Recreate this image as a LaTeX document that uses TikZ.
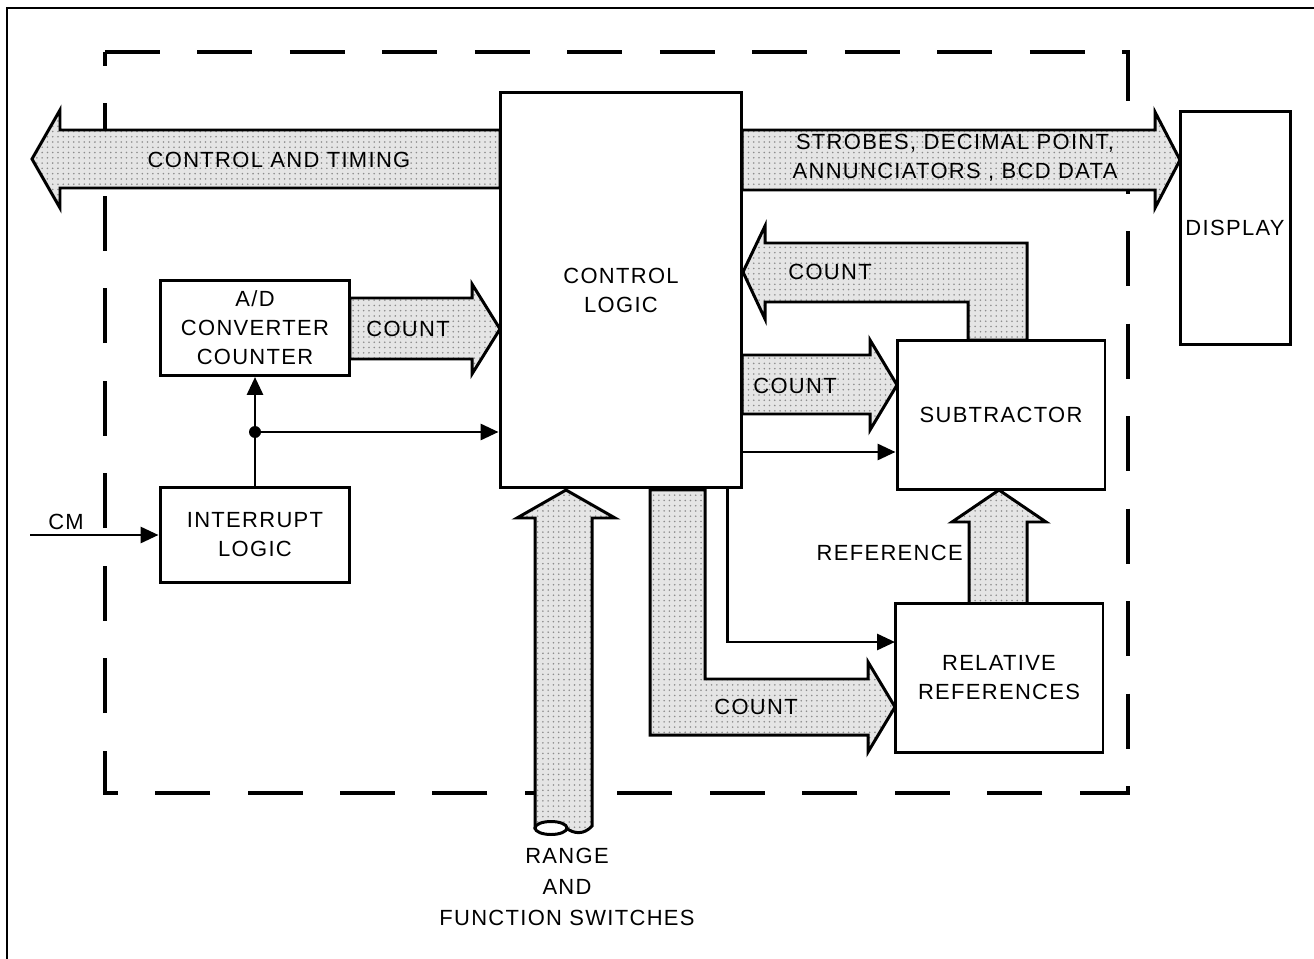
\documentclass[tikz,border=0pt]{standalone}
\usepackage{fontspec}
\setsansfont[LetterSpace=6]{Liberation Sans}
\usepackage{tikz}
\usetikzlibrary{positioning}
\usetikzlibrary{arrows.meta,patterns}
\tikzset{blk/.style={draw, line width=1.7pt, fill=white, align=center, inner sep=0pt, font=\sffamily\fontsize{12.5}{16.5}\selectfont}}
\tikzset{bus/.style={preaction={fill=black!10}, preaction={pattern=dots, pattern color=black!45}, draw, line width=1.7pt, line join=miter}}
\tikzset{sig/.style={line width=1.7pt, -{Triangle[length=0.36cm,width=0.32cm]}}}
\tikzset{lbl/.style={align=center, inner sep=0pt, font=\sffamily\fontsize{12.5}{16.5}\selectfont}}

\begin{document}
\begin{tikzpicture}[x=0.02cm, y=-0.02cm]
\useasboundingbox (0,0) rectangle (1314,959);
\draw[line width=1.5pt] (7,959) -- (7,8) -- (1314,8);
\draw[line width=1.8pt, dash pattern=on 1.1cm off 0.75cm] (105,52) -- (1128,52) -- (1128,793) -- (105,793) -- cycle;
% buses
\draw[bus] (500,130) -- (60,130) -- (60,110) -- (32,159) -- (60,208) -- (60,188) -- (500,188) -- cycle;
\draw[bus] (742,130) -- (1155,130) -- (1155,112) -- (1180,160) -- (1155,208) -- (1155,190) -- (742,190) -- cycle;
\draw[bus] (350,298) -- (472,298) -- (472,284) -- (500,329) -- (472,374) -- (472,359) -- (350,359) -- cycle;
\draw[bus] (1027,340) -- (1027,243) -- (765,243) -- (765,226) -- (743,272) -- (765,319) -- (765,302) -- (968,302) -- (968,340) -- cycle;
\draw[bus] (742,355) -- (870,355) -- (870,340) -- (897,385) -- (870,430) -- (870,414) -- (742,414) -- cycle;
\draw[bus] (650,490) -- (650,735) -- (868,735) -- (868,752) -- (895,707) -- (868,662) -- (868,679) -- (705,679) -- (705,490) -- cycle;
\draw[bus] (969,605) -- (969,522) -- (952,522) -- (999,490) -- (1046,522) -- (1027,522) -- (1027,605) -- cycle;
\draw[bus] (535,828) -- (535,518) -- (517,518) -- (566,490) -- (615,518) -- (592,518) -- (592,826) .. controls (584,835) and (574,834) .. (566,828) -- cycle;
\draw[line width=1.7pt, fill=white] (551,828) ellipse [x radius=0.32cm, y radius=0.13cm];
% blocks
\node[blk, minimum width=4.84cm, minimum height=7.92cm] (ctl) at (621,290) {CONTROL\\LOGIC};
\node[blk, minimum width=2.2cm, minimum height=4.66cm] (disp) at (1235,228) {DISPLAY};
\node[blk, minimum width=3.8cm, minimum height=1.9cm] (adc) at (255,328) {A/D\\CONVERTER\\COUNTER};
\node[blk, minimum width=3.8cm, minimum height=1.9cm] (intr) at (255,535) {INTERRUPT\\LOGIC};
\node[blk, minimum width=4.16cm, minimum height=3cm] (sub) at (1001,415) {SUBTRACTOR};
\node[blk, minimum width=4.16cm, minimum height=3cm] (rel) at (999,678) {RELATIVE\\REFERENCES};
% labels
\node[lbl] (tctl) at (279,160) {CONTROL AND TIMING};
\node[lbl] (tstr) at (955,158) {STROBES, DECIMAL POINT,\\ANNUNCIATORS , BCD DATA};
\node[lbl] (tcnta) at (408,329) {COUNT};
\node[lbl] (tcntb) at (830,272) {COUNT};
\node[lbl] (tcntc) at (795,386) {COUNT};
\node[lbl] (tcntd) at (756,707) {COUNT};
\node[lbl, anchor=east] (tref) at (963,553) {REFERENCE};
\node[lbl] (tcm) at (66,522) {CM};
\node[lbl, font=\sffamily\fontsize{12.5}{17.8}\selectfont] (trng) at (567,887) {RANGE\\AND\\FUNCTION SWITCHES};
% signals
\coordinate (cmin) at (30,535);
\coordinate (jn) at (255,432);
\coordinate (sa) at (742,452);
\coordinate (sb) at (727,488);
\coordinate (sbe) at (895,642);
\draw[sig] (cmin) -- (intr.west);
\draw[sig] (intr.north) -- (adc.south);
\fill (jn) circle (0.12cm);
\draw[sig] (jn) -- (jn -| ctl.west);
\draw[sig] (sa) -- (sa -| sub.west);
\draw[sig] (sb) |- (sbe);
\end{tikzpicture}
\end{document}
